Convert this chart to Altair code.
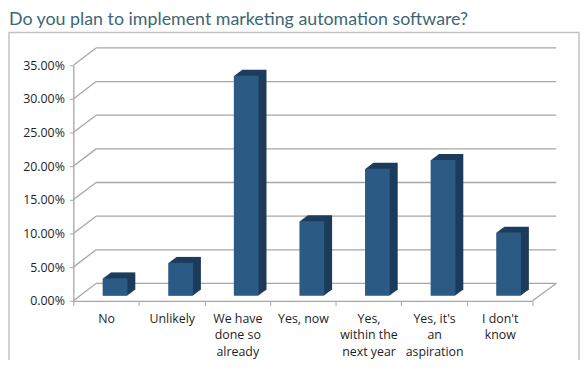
import altair as alt
import pandas as pd

TITLE = "Do you plan to implement marketing automation software?"
CATEGORIES = [
    "No",
    "Unlikely",
    "We have\ndone so\nalready",
    "Yes, now",
    "Yes,\nwithin the\nnext year",
    "Yes, it's\nan\naspiration",
    "I don't\nknow",
]
VALUES = [0.026, 0.049, 0.327, 0.111, 0.189, 0.202, 0.094]
TICKS = [0.0, 0.05, 0.10, 0.15, 0.20, 0.25, 0.30, 0.35]

W, H = 464, 238
DX, DY = 23, 17.5          # depth of the back wall
BX, BY = 9, 5              # bars sit half-way into the depth
SX, SY = 8, 6              # bar side / top depth
FRONT = "#2b5a84"
DARK = "#1d3c5c"
GRID = "#a6a6a6"
FONT = "Open Sans"

bars_df = pd.DataFrame({"cat": CATEGORIES, "val": VALUES})
ticks_df = pd.DataFrame({"val": TICKS})

xs = alt.Scale(domain=CATEGORIES, paddingInner=0, paddingOuter=0)
ys = alt.Scale(domain=[0, 0.35], nice=False, zero=True)

y_axis = alt.Axis(
    title=None, values=TICKS, format=".2%", grid=False, tickSize=4,
    tickColor=GRID, domainColor=GRID, domainWidth=1.3, labelFont=FONT,
    labelFontSize=12.5, labelColor="#1e1e1e", labelPadding=5,
    labelOverlap=False, labelFlush=False,
)
x_axis = alt.Axis(
    title=None, labelAngle=0, tickBand="extent", tickSize=5, tickColor=GRID,
    domainColor=GRID, domainWidth=1.3, labelFont=FONT, labelFontSize=12.5,
    labelColor="#1e1e1e", labelLineHeight=16.5, labelPadding=7,
    labelOverlap=False, labelExpr="split(datum.label, '\\n')",
)

frame = alt.Chart(alt.Data(values=[{"a": 1}])).mark_rect(
    fillOpacity=0, stroke="#c4c4c4", strokeWidth=1.5
).encode(x=alt.value(-65), x2=alt.value(511), y=alt.value(-33), y2=alt.value(340))

title = alt.Chart(alt.Data(values=[{"t": TITLE}])).mark_text(
    align="left", baseline="top", font="Lato", fontSize=18, color="#3d6676"
).encode(x=alt.value(-65), y=alt.value(-55), text="t:N")

diag = alt.Chart(ticks_df).mark_rule(color=GRID, strokeWidth=1.3, y2Offset=-DY).encode(
    y=alt.Y("val:Q", scale=ys, axis=y_axis), y2="val:Q", x=alt.value(0), x2=alt.value(DX)
)
back = alt.Chart(ticks_df).mark_rule(color=GRID, strokeWidth=1.3, yOffset=-DY).encode(
    y=alt.Y("val:Q", scale=ys, axis=y_axis), x=alt.value(DX), x2=alt.value(W + 24)
)
floor = alt.Chart(ticks_df).transform_filter("datum.val == 0").mark_rule(
    color=GRID, strokeWidth=1.3, y2Offset=-DY
).encode(y=alt.Y("val:Q", scale=ys, axis=y_axis), y2="val:Q", x=alt.value(W), x2=alt.value(W + 24))

N = 8
dark_layers = []
for k in range(N, 0, -1):
    ox = BX + SX * k / N
    oy = -BY - SY * k / N
    dark_layers.append(
        alt.Chart(bars_df).mark_bar(
            size=25, color=DARK, xOffset=ox, x2Offset=ox, yOffset=oy, y2Offset=oy
        ).encode(
            x=alt.X("cat:N", scale=xs, sort=CATEGORIES, axis=x_axis),
            y=alt.Y("val:Q", scale=ys, axis=y_axis),
        )
    )

front = alt.Chart(bars_df).mark_bar(
    size=25, color=FRONT, xOffset=BX, x2Offset=BX, yOffset=-BY, y2Offset=-BY
).encode(
    x=alt.X("cat:N", scale=xs, sort=CATEGORIES, axis=x_axis),
    y=alt.Y("val:Q", scale=ys, axis=y_axis),
)

chart = alt.layer(frame, title, diag, back, floor, *dark_layers, front).properties(
    width=W, height=H,
    padding={"left": 66, "top": 56, "right": 48, "bottom": 58},
    autosize=alt.AutoSizeParams(type="none"),
).configure_view(stroke=None).configure_axis(labelOverlap=False)

chart.save("out.html", embed_options={"renderer": "svg", "actions": False})
